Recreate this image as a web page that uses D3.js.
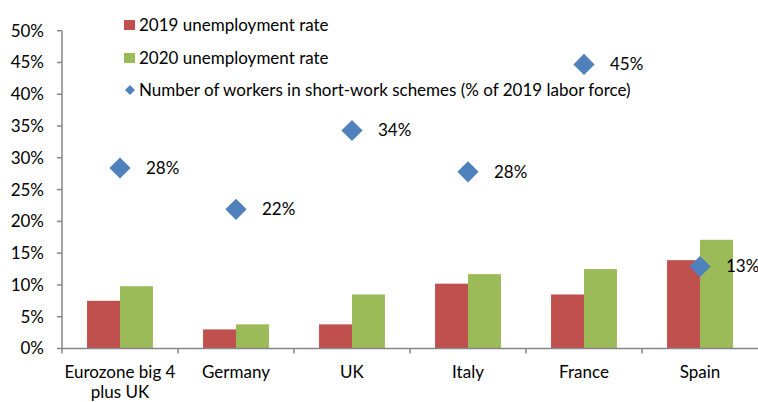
<!DOCTYPE html>
<html lang="en">
<head>
    <meta charset="UTF-8">
    <title>Unemployment and short-work schemes</title>
    <script src="https://d3js.org/d3.v7.min.js"></script>
    <style>
        html, body { margin: 0; padding: 0; background: #fff; overflow: hidden; }
        #mainsvg { display: block; }
        svg text { font-family: Lato, "Open Sans", sans-serif; fill: #000; }
    </style>
</head>
<body>
    <svg width="758" height="402" id="mainsvg"></svg>
    <script>
        // data (percent)
        const categories = ['Eurozone big 4\nplus UK', 'Germany', 'UK', 'Italy', 'France', 'Spain'];
        const rate2019 = [7.5, 3.0, 3.8, 10.2, 8.5, 13.9];
        const rate2020 = [9.8, 3.8, 8.5, 11.7, 12.5, 17.1];
        const shortWork = [28.4, 21.9, 34.3, 27.8, 44.7, 12.9];
        const yTicks = [0, 5, 10, 15, 20, 25, 30, 35, 40, 45, 50];
        const seriesNames = ['2019 unemployment rate', '2020 unemployment rate',
            'Number of workers in short-work schemes (% of 2019 labor force)'];

        const colors = { r19: '#C0504D', r20: '#9BBB59', sw: '#4F81BD', axis: '#868686' };
        const fontSize = '17px';

        const svg = d3.select('#mainsvg');
        const margin = { top: 30.7, right: 0, bottom: 53.5, left: 62 };
        const width = +svg.attr('width');
        const height = +svg.attr('height');
        const innerWidth = width - margin.left - margin.right;
        const innerHeight = height - margin.top - margin.bottom;

        // scales (in page coordinates)
        const x = d3.scaleBand().domain(categories)
            .range([margin.left, margin.left + innerWidth]).padding(0);
        const xInner = d3.scaleBand().domain(['2019', '2020'])
            .range([0, x.bandwidth()]).paddingInner(0).paddingOuter(0.76);
        const y = d3.scaleLinear().domain([0, 50])
            .range([margin.top + innerHeight, margin.top]);

        const rows = categories.map((c, i) => ({
            cat: c, r19: rate2019[i], r20: rate2020[i], sw: shortWork[i]
        }));

        // bars
        svg.selectAll('.b19').data(rows).enter().append('rect')
            .attr('x', d => x(d.cat) + xInner('2019'))
            .attr('width', xInner.bandwidth())
            .attr('y', d => y(d.r19))
            .attr('height', d => y(0) - y(d.r19))
            .attr('fill', colors.r19);

        svg.selectAll('.b20').data(rows).enter().append('rect')
            .attr('x', d => x(d.cat) + xInner('2020'))
            .attr('width', xInner.bandwidth())
            .attr('y', d => y(d.r20))
            .attr('height', d => y(0) - y(d.r20))
            .attr('fill', colors.r20);

        // y axis: line, ticks, labels
        svg.append('line')
            .attr('x1', margin.left).attr('x2', margin.left)
            .attr('y1', y(50)).attr('y2', y(0))
            .attr('stroke', colors.axis).attr('stroke-width', 1.5);
        svg.selectAll('.yt').data(yTicks).enter().append('line')
            .attr('x1', margin.left - 5).attr('x2', margin.left)
            .attr('y1', d => y(d)).attr('y2', d => y(d))
            .attr('stroke', colors.axis).attr('stroke-width', 1.5);
        svg.selectAll('.yl').data(yTicks).enter().append('text')
            .attr('text-anchor', 'end')
            .attr('x', margin.left - 18)
            .attr('y', d => y(d))
            .attr('dy', '0.35em')
            .style('font-size', fontSize)
            .text(d => d + '%');

        // x axis: line + boundary ticks + labels
        const baseY = y(0);
        svg.append('line')
            .attr('x1', margin.left).attr('x2', width)
            .attr('y1', baseY).attr('y2', baseY)
            .attr('stroke', colors.axis).attr('stroke-width', 1.5);
        svg.selectAll('.bt').data(categories).enter().append('line')
            .attr('x1', d => x(d)).attr('x2', d => x(d))
            .attr('y1', baseY).attr('y2', baseY + 5)
            .attr('stroke', colors.axis).attr('stroke-width', 1.5);
        const xLabels = svg.selectAll('.xl').data(categories).enter().append('text')
            .attr('text-anchor', 'middle')
            .attr('x', d => x(d) + x.bandwidth() / 2)
            .style('font-size', fontSize);
        xLabels.selectAll('tspan').data(d => d.split('\n')).enter().append('tspan')
            .attr('x', function () { return d3.select(this.parentNode).attr('x'); })
            .attr('y', (d, i) => baseY + 29 + i * 20)
            .text(d => d);

        // short-work diamonds
        const diamond = d3.symbol().type(d3.symbolSquare).size(225);
        svg.selectAll('.sw').data(rows).enter().append('path')
            .attr('d', diamond)
            .attr('fill', colors.sw)
            .attr('transform', d => `translate(${x(d.cat) + x.bandwidth() / 2},${y(d.sw)}) rotate(45)`);
        svg.selectAll('.swl').data(rows).enter().append('text')
            .attr('x', d => x(d.cat) + x.bandwidth() / 2 + 26)
            .attr('y', d => y(d.sw))
            .attr('dy', '0.35em')
            .style('font-size', fontSize)
            .text(d => d3.format('.0f')(d.sw) + '%');

        // legend
        const legendRows = [
            { name: seriesNames[0], color: colors.r19, shape: 'rect', y: 25 },
            { name: seriesNames[1], color: colors.r20, shape: 'rect', y: 58 },
            { name: seriesNames[2], color: colors.sw, shape: 'diamond', y: 90 }
        ];
        const lx = 124;
        legendRows.forEach(r => {
            if (r.shape === 'rect') {
                svg.append('rect')
                    .attr('x', lx).attr('y', r.y - 5)
                    .attr('width', 11).attr('height', 10)
                    .attr('fill', r.color);
            } else {
                svg.append('path')
                    .attr('d', d3.symbol().type(d3.symbolSquare).size(50))
                    .attr('fill', r.color)
                    .attr('transform', `translate(${lx + 6},${r.y}) rotate(45)`);
            }
            svg.append('text')
                .attr('x', lx + 15).attr('y', r.y)
                .attr('dy', '0.35em')
                .style('font-size', fontSize)
                .text(r.name);
        });
    </script>
</body>
</html>
